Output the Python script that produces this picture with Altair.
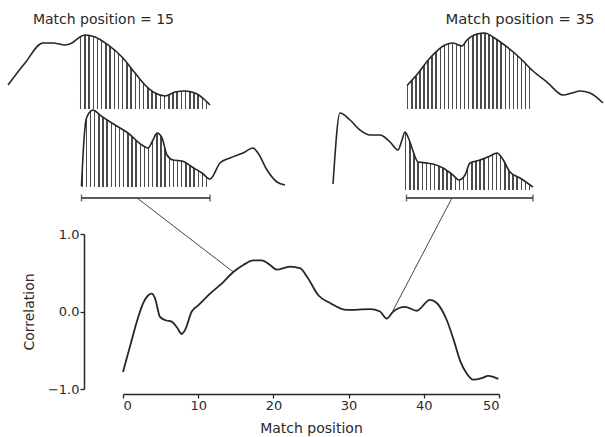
import altair as alt
import pandas as pd

# ---- main correlation curve ----
main_x = [0, 0.93, 2.03, 2.70, 3.36, 3.82, 4.26, 4.92, 5.59, 6.48, 7.14, 7.81, 8.24, 9.14, 10.01,
          11.57, 13.34, 14.67, 16.0, 17.33, 18.44, 19.55, 20.44, 22.21, 23.54, 24.53, 25.97, 27.53,
          29.75, 32.85, 34.18, 35.07, 35.94, 37.50, 39.06, 40.82, 41.72, 43.05, 43.92, 44.81, 45.70,
          46.58, 47.70, 48.58, 49.91]
main_y = [-0.78, -0.45, -0.07, 0.11, 0.21, 0.23, 0.17, -0.07, -0.11, -0.13, -0.20, -0.29, -0.24,
          0.00, 0.08, 0.23, 0.38, 0.51, 0.60, 0.66, 0.66, 0.60, 0.54, 0.58, 0.56, 0.44, 0.21, 0.11,
          0.02, 0.03, 0.00, -0.09, 0.00, 0.06, 0.01, 0.15, 0.11, -0.11, -0.35, -0.63, -0.80, -0.88,
          -0.86, -0.83, -0.87]

# ---- illustration waveforms (in the chart's coordinate units) ----
ul_x = [-15.29, -13.03, -10.64, -9.31, -7.71, -6.78, -5.72, -5.05, -3.72, -1.99, -0.13, 1.60, 2.93,
        4.26, 5.59, 6.91, 8.24, 9.57, 10.90, 11.57]
ul_y = [2.923, 3.206, 3.465, 3.465, 3.439, 3.465, 3.542, 3.568, 3.542, 3.439, 3.284, 3.077, 2.923,
        2.819, 2.781, 2.832, 2.845, 2.819, 2.729, 2.665]
ll_x = [-5.52, -5.19, -4.92, -4.52, -3.99, -3.06, -1.06, 0.66, 2.53, 3.32, 3.99, 4.52, 5.19, 5.85,
        6.65, 7.85, 9.18, 10.51, 11.57, 12.90, 14.23, 15.96, 17.29, 17.95, 19.15, 20.48, 21.54]
ll_y = [1.619, 2.213, 2.471, 2.561, 2.600, 2.535, 2.406, 2.303, 2.148, 2.110, 2.213, 2.303, 2.239,
        2.019, 1.955, 1.942, 1.865, 1.787, 1.710, 1.916, 1.981, 2.045, 2.110, 2.045, 1.826, 1.671,
        1.632]
ur_x = [37.77, 39.10, 40.82, 42.82, 43.88, 45.08, 45.74, 47.07, 48.14, 49.20, 51.06, 52.79, 54.52,
        56.38, 58.51, 59.71, 60.77, 62.10, 63.83]
ur_y = [2.916, 3.058, 3.271, 3.439, 3.465, 3.426, 3.503, 3.581, 3.594, 3.542, 3.413, 3.271, 3.103,
        2.961, 2.794, 2.819, 2.845, 2.819, 2.690]
lr_x = [27.93, 28.86, 30.19, 31.52, 32.85, 34.18, 35.51, 36.57, 37.10, 37.50, 37.90, 38.43, 39.23,
        40.43, 41.22, 42.55, 43.88, 44.68, 45.48, 46.14, 47.47, 48.80, 49.73, 50.40, 51.46, 52.79,
        54.52]
lr_y = [1.645, 2.561, 2.471, 2.342, 2.277, 2.277, 2.187, 2.084, 2.213, 2.316, 2.252, 2.110, 1.929,
        1.916, 1.903, 1.852, 1.761, 1.697, 1.761, 1.916, 1.955, 2.006, 2.045, 1.981, 1.800, 1.723,
        1.606]

panels = ["ul", "ll", "ur", "lr"]
hatch_start = [-5.72, -5.52, 37.77, 37.50]
hatch_end = [11.57, 11.57, 54.52, 54.52]
hatch_base = [2.613, 1.606, 2.613, 1.568]

# window bars and connector lines
bar_x1 = [-5.52, 37.70]
bar_x2 = [11.57, 54.52]
bar_y = [1.465, 1.465]
conn_x1 = [1.86, 43.75]
conn_y1 = [1.465, 1.465]
conn_x2 = [14.67, 35.73]
conn_y2 = [0.51, -0.02]

title_text = ["Match position = 15", "Match position = 35"]
title_x = [-2.6, 52.79]
title_y = [3.76, 3.76]
title_size = [14, 14.8]

x_ticks = [0, 10, 20, 30, 40, 50]
y_ticks = [-1, 0, 1]

# ---- tables ----
main_df = pd.DataFrame({"x": main_x, "y": main_y})
waves = {"ul": (ul_x, ul_y), "ll": (ll_x, ll_y), "ur": (ur_x, ur_y), "lr": (lr_x, lr_y)}
wave_rows = []
hatch_rows = []
for p, s, e, b in zip(panels, hatch_start, hatch_end, hatch_base):
    xs, ys = waves[p]
    for xv, yv in zip(xs, ys):
        wave_rows.append({"panel": p, "x": xv, "y": yv})
        if s <= xv <= e:
            hatch_rows.append({"panel": p, "x": xv, "y": yv, "base": b})
wave_df = pd.DataFrame(wave_rows)
hatch_df = pd.DataFrame(hatch_rows)
bar_df = pd.DataFrame({"x": bar_x1, "x2": bar_x2, "y": bar_y})
bar_end_df = pd.DataFrame({"x": bar_x1 + bar_x2, "y": bar_y + bar_y})
conn_df = pd.DataFrame({"x": conn_x1, "y": conn_y1, "x2": conn_x2, "y2": conn_y2})
text_df = pd.DataFrame({"t": title_text, "x": title_x, "y": title_y, "s": title_size})

INK = "#262626"
FONT = "DejaVu Sans"
XS = alt.Scale(domain=[0, 50], nice=False, zero=False)
YS = alt.Scale(domain=[-1, 1], nice=False, zero=False)
XAX = alt.Axis(values=x_ticks, title="Match position", offset=5, domainWidth=1.5,
               domainColor=INK, tickColor=INK, tickSize=4, tickWidth=1.3, labelPadding=1,
               titlePadding=9, grid=False)
YAX = alt.Axis(values=y_ticks, format=".1f", title="Correlation", offset=39, domainWidth=1.5,
               domainColor=INK, tickColor=INK, tickSize=4, tickWidth=1.3, labelPadding=1,
               titlePadding=11, grid=False)
XE = alt.X("x:Q", scale=XS, axis=XAX)
YE = alt.Y("y:Q", scale=YS, axis=YAX)

# hatch pattern as a hard-stop gradient
n_stripes, dark_frac = 31, 0.36
stops = []
for i in range(n_stripes):
    a = round(i / n_stripes, 5)
    b = round((i + dark_frac) / n_stripes, 5)
    c = round((i + 1) / n_stripes, 5)
    stops += [alt.GradientStop(offset=a, color="#4a4a4a"),
              alt.GradientStop(offset=b, color="#4a4a4a"),
              alt.GradientStop(offset=b, color="#ffffff"),
              alt.GradientStop(offset=c, color="#ffffff")]
hatch_fill = alt.Gradient(gradient="linear", stops=stops, x1=0, x2=1, y1=0, y2=0)

main = alt.Chart(main_df).mark_line(color=INK, strokeWidth=1.8, interpolate="monotone").encode(
    x=XE, y=YE)

hatch = alt.Chart(hatch_df).mark_area(color=hatch_fill, interpolate="monotone").encode(
    x=XE, y=YE, y2="base:Q", detail="panel:N")

wave = alt.Chart(wave_df).mark_line(color=INK, strokeWidth=1.6, interpolate="monotone").encode(
    x=XE, y=YE, detail="panel:N")

bars = alt.Chart(bar_df).mark_rule(color=INK, strokeWidth=1.5).encode(x=XE, x2="x2:Q", y=YE)
bar_ends = alt.Chart(bar_end_df).mark_tick(color=INK, orient="vertical", size=7,
                                           thickness=1.4).encode(x=XE, y=YE)
conns = alt.Chart(conn_df).mark_rule(color="#444444", strokeWidth=1.0).encode(
    x=XE, x2="x2:Q", y=YE, y2="y2:Q")
texts = alt.Chart(text_df).mark_text(font=FONT, color="#2a2a2a",
                                      align="center", baseline="middle").encode(
    x=XE, y=YE, text="t:N", size=alt.Size("s:Q", scale=None, legend=None))

chart = alt.layer(main, hatch, wave, bars, bar_ends, conns, texts).properties(
    width=376, height=155,
    autosize=alt.AutoSizeParams(type="none"),
    padding={"left": 123, "top": 234, "right": 106, "bottom": 48},
    background="white",
).configure_view(stroke=None).configure_axis(
    labelFont=FONT, titleFont=FONT, labelFontSize=13, titleFontSize=14,
    labelColor="#2a2a2a", titleColor="#2a2a2a", titleFontWeight="normal",
)

chart.save("out.html", embed_options={"renderer": "svg", "actions": False})
